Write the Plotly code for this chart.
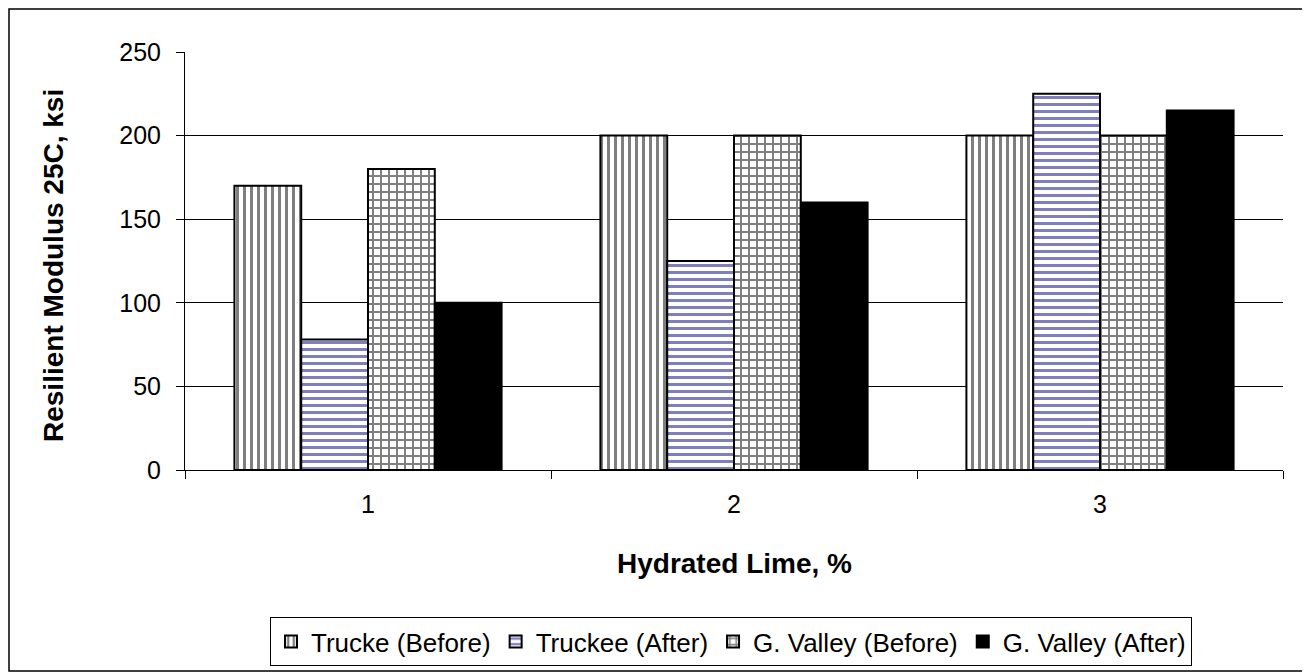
import plotly.graph_objects as go

categories = ["1", "2", "3"]
series_names = ["Trucke (Before)", "Truckee (After)", "G. Valley (Before)", "G. Valley (After)"]
truckee_before = [170, 200, 200]
truckee_after = [78, 125, 225]
gvalley_before = [180, 200, 200]
gvalley_after = [100, 160, 215]
y_ticks = [0, 50, 100, 150, 200, 250]
x_title = "Hydrated Lime, %"
y_title = "Resilient Modulus 25C, ksi"

# page has an 8px body margin, so the figure is offset by 8px
W, H = 1302, 664
L, R, T, B = 177, 27, 44, 202
pw, ph = W - L - R, H - T - B

def px_x(p):
    return (p - L) / pw

def px_y(p):
    return (H - B - p) / ph

styles = [
    dict(pattern=dict(shape="|", fgcolor="black", bgcolor="white", size=7, solidity=3 / 7, fillmode="overlay"), color="white"),
    dict(pattern=dict(shape="-", fgcolor="#000080", bgcolor="white", size=7, solidity=3 / 7, fillmode="overlay"), color="white"),
    dict(pattern=dict(shape="+", fgcolor="black", bgcolor="white", size=8, solidity=0.4375, fillmode="overlay"), color="white"),
    dict(color="black"),
]
data = [truckee_before, truckee_after, gvalley_before, gvalley_after]

fig = go.Figure()
for name, vals, st in zip(series_names, data, styles):
    fig.add_trace(go.Bar(
        x=categories, y=vals, name=name,
        marker=dict(line=dict(color="black", width=2), **st),
    ))

font = "Liberation Sans, Arial, sans-serif"
fig.update_layout(
    width=W, height=H,
    margin=dict(l=L, r=R, t=T, b=B, autoexpand=False),
    paper_bgcolor="white", plot_bgcolor="white",
    barmode="group", bargap=0.27, bargroupgap=0,
    font=dict(family=font, size=25, color="black"),
    showlegend=True,
    legend=dict(
        orientation="h", x=px_x(723), xanchor="center", y=px_y(609), yanchor="top",
        bordercolor="black", borderwidth=1, bgcolor="white",
        font=dict(size=26, family=font),
        itemwidth=30, traceorder="normal",
    ),
    xaxis=dict(
        type="category", showline=True, linecolor="black", linewidth=1,
        ticks="outside", tickson="boundaries", ticklen=8, tickcolor="black",
        tickfont=dict(size=25), showgrid=False, ticklabelstandoff=12,
    ),
    yaxis=dict(
        range=[0, 250], tickvals=y_ticks, showline=True, linecolor="black", linewidth=1,
        ticks="outside", ticklen=8, tickcolor="black",
        showgrid=True, gridcolor="black", gridwidth=1,
        tickfont=dict(size=25), zeroline=False, ticklabelstandoff=10,
    ),
    annotations=[
        dict(text="<b>%s</b>" % x_title, xref="paper", yref="paper",
             x=px_x((L + W - R) / 2), y=px_y(555), xanchor="center", yanchor="middle",
             showarrow=False, font=dict(size=28)),
        dict(text="<b>%s</b>" % y_title, xref="paper", yref="paper",
             x=px_x(45), y=px_y(258), xanchor="center", yanchor="middle", textangle=-90,
             showarrow=False, font=dict(size=28)),
    ],
    shapes=[dict(type="rect", xref="paper", yref="paper",
                 x0=px_x(1), x1=px_x(1295), y0=px_y(663), y1=px_y(1),
                 line=dict(color="black", width=1.5), fillcolor="rgba(0,0,0,0)", layer="below")],
)

fig.write_html("out.html")
